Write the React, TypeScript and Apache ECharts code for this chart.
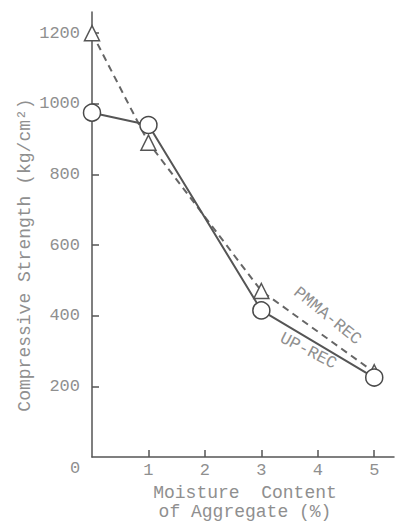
import React, { useEffect, useRef } from "react";
import * as echarts from "echarts";

const moisture = [0, 1, 3, 5];
const pmmaRec = [1200, 890, 470, 240];
const upRec = [975, 940, 415, 225];
const yTicks = [200, 400, 600, 800, 1000, 1200];
const xTicks = [1, 2, 3, 4, 5];
const yTitle = "Compressive Strength (kg/cm²)";
const xTitle1 = "Moisture  Content";
const xTitle2 = "of Aggregate (%)";
const pmmaLabel = "PMMA-REC";
const upLabel = "UP-REC";

const FONT = "'Liberation Mono', 'DejaVu Sans Mono', monospace";
const TEXT = "#8f8f8f";
const LINE = "#555";

export default function App() {
  const ref = useRef<HTMLDivElement>(null);
  useEffect(() => {
    if (!ref.current) return;
    const chart = echarts.init(ref.current, undefined, { renderer: "svg" });
    const option: any = {
      animation: false,
      backgroundColor: "#fff",
      grid: { left: 92, right: 1, top: 12, bottom: 65 },
      xAxis: {
        type: "value",
        min: 0,
        max: 5.35,
        interval: 1,
        axisLine: { lineStyle: { color: LINE, width: 1.5 } },
        axisTick: { inside: true, length: 7, customValues: xTicks, lineStyle: { color: LINE, width: 1.5 } },
        axisLabel: {
          customValues: xTicks,
          formatter: (v: number) => String(v),
          margin: 5,
          color: TEXT,
          fontFamily: FONT,
          fontSize: 17,
        },
        splitLine: { show: false },
      },
      yAxis: {
        type: "value",
        min: 0,
        max: 1260,
        interval: 200,
        axisLine: { lineStyle: { color: LINE, width: 1.5 } },
        axisTick: { inside: true, length: 7, customValues: yTicks, lineStyle: { color: LINE, width: 1.5 } },
        axisLabel: {
          customValues: yTicks,
          formatter: (v: number) => String(v),
          margin: 12,
          color: TEXT,
          fontFamily: FONT,
          fontSize: 17,
        },
        splitLine: { show: false },
      },
      series: [
        {
          name: pmmaLabel,
          type: "line",
          data: moisture.map((m, i) => [m, pmmaRec[i]]),
          symbol: "triangle",
          symbolSize: 15,
          lineStyle: { color: "#666", width: 2, type: [7, 5] },
          itemStyle: { color: "#fff", borderColor: "#555", borderWidth: 1.5 },
          z: 2,
        },
        {
          name: upLabel,
          type: "line",
          data: moisture.map((m, i) => [m, upRec[i]]),
          symbol: "circle",
          symbolSize: 17,
          lineStyle: { color: LINE, width: 2 },
          itemStyle: { color: "#fff", borderColor: "#4a4a4a", borderWidth: 1.5 },
          z: 3,
        },
      ],
    };
    chart.setOption(option);
    const p1 = chart.convertToPixel({ gridIndex: 0 }, [4.17, 399]) as number[];
    const p2 = chart.convertToPixel({ gridIndex: 0 }, [3.83, 300]) as number[];
    const origin = chart.convertToPixel({ gridIndex: 0 }, [0, 0]) as number[];
    const txt = (text: string, x: number, y: number, rot: number, size: number) => ({
      type: "text",
      x,
      y,
      rotation: rot,
      style: {
        text,
        fill: TEXT,
        font: `${size}px ${FONT}`,
        align: "center",
        verticalAlign: "middle",
      },
    });
    chart.setOption({
      graphic: [
        txt("0", origin[0] - 17, origin[1] + 11, 0, 17),
        txt(yTitle, 25, 255, Math.PI / 2, 18),
        txt(xTitle1, 245, 493, 0, 18),
        txt(xTitle2, 245, 512, 0, 18),
        txt(pmmaLabel, p1[0], p1[1], (-39 * Math.PI) / 180, 17),
        txt(upLabel, p2[0], p2[1], (-27 * Math.PI) / 180, 17),
      ],
    });
    return () => chart.dispose();
  }, []);
  return (
    <div
      ref={ref}
      style={{ position: "fixed", left: 0, top: 0, width: 395, height: 522 }}
    />
  );
}
